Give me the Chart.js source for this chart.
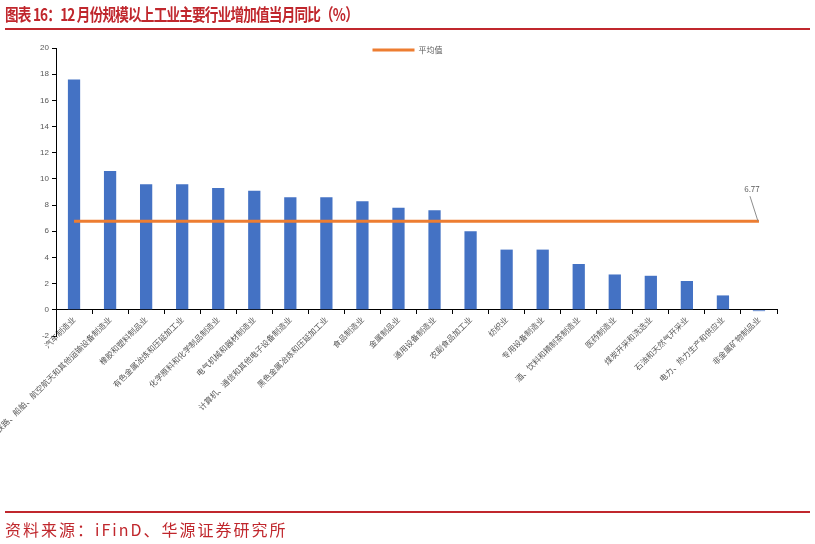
<!DOCTYPE html>
<html lang="zh">
  <head>
    <meta charset="UTF-8" />
    <title>12月份规模以上工业主要行业增加值当月同比</title>
    <script src="https://cdn.jsdelivr.net/npm/chart.js"></script>
    <style>
      html, body { margin: 0; padding: 0; background: #fff; }
      .page { position: relative; width: 815px; height: 544px; overflow: hidden; font-family: "Noto Sans CJK SC", sans-serif; }
      .title { position: absolute; left: 5px; top: 1px; font-size: 17px; font-weight: bold; color: #C0272D; letter-spacing: -1px; white-space: nowrap; transform: scaleX(0.8); transform-origin: left top; }
      .rule { position: absolute; left: 5px; width: 805px; height: 2px; background: #C0272D; }
      .source { position: absolute; left: 5px; top: 517px; font-size: 16px; color: #C0272D; letter-spacing: 2px; white-space: nowrap; }
      canvas { position: absolute; left: 0; top: 0; }
    </style>
  </head>
  <body>
    <div class="page">
      <canvas id="myChart" width="815" height="544"></canvas>
      <div class="title">图表 16：12 月份规模以上工业主要行业增加值当月同比（%）</div>
      <div class="rule" style="top: 28px"></div>
      <div class="rule" style="top: 511px"></div>
      <div class="source">资料来源：iFinD、华源证券研究所</div>
    </div>

    <script>
      const categories = [
        "汽车制造业",
        "铁路、船舶、航空航天和其他运输设备制造业",
        "橡胶和塑料制品业",
        "有色金属冶炼和压延加工业",
        "化学原料和化学制品制造业",
        "电气机械和器材制造业",
        "计算机、通信和其他电子设备制造业",
        "黑色金属冶炼和压延加工业",
        "食品制造业",
        "金属制品业",
        "通用设备制造业",
        "农副食品加工业",
        "纺织业",
        "专用设备制造业",
        "酒、饮料和精制茶制造业",
        "医药制造业",
        "煤炭开采和洗选业",
        "石油和天然气开采业",
        "电力、热力生产和供应业",
        "非金属矿物制品业"
      ];

      // 当月同比 (%)
      const growth = [17.6, 10.6, 9.6, 9.6, 9.3, 9.1, 8.6, 8.6, 8.3, 7.8,
                      7.6, 6.0, 4.6, 4.6, 3.5, 2.7, 2.6, 2.2, 1.1, -0.1];

      // 平均值
      const average = [6.77, 6.77, 6.77, 6.77, 6.77, 6.77, 6.77, 6.77, 6.77, 6.77,
                       6.77, 6.77, 6.77, 6.77, 6.77, 6.77, 6.77, 6.77, 6.77, 6.77];
      const averageLabel = "6.77";

      const yMin = -2;
      const yMax = 20;
      const yStep = 2;

      const BLUE = "#4472C4";
      const ORANGE = "#ED7D31";
      const GREY = "#595959";

      // legend drawn inside the plot area, centred above the bars
      const innerLegend = {
        id: "innerLegend",
        afterDraw(chart) {
          const { ctx, chartArea } = chart;
          const ds = chart.data.datasets[0];
          const cx = (chartArea.left + chartArea.right) / 2;
          const y = chartArea.top + 2;
          ctx.save();
          ctx.strokeStyle = ds.borderColor;
          ctx.lineWidth = 3;
          ctx.beginPath();
          ctx.moveTo(cx - 44, y);
          ctx.lineTo(cx - 2, y);
          ctx.stroke();
          ctx.fillStyle = GREY;
          ctx.font = '8px "Noto Sans CJK SC"';
          ctx.textBaseline = "middle";
          ctx.fillText(ds.label, cx + 2, y);
          ctx.restore();
        }
      };

      // value callout at the end of the average line
      const avgCallout = {
        id: "avgCallout",
        afterDatasetsDraw(chart) {
          const meta = chart.getDatasetMeta(0);
          const pt = meta.data[meta.data.length - 1];
          const ctx = chart.ctx;
          ctx.save();
          ctx.strokeStyle = "#8c8c8c";
          ctx.lineWidth = 1;
          ctx.beginPath();
          ctx.moveTo(pt.x - 1, pt.y);
          ctx.lineTo(pt.x - 9, pt.y - 25);
          ctx.stroke();
          ctx.fillStyle = GREY;
          ctx.font = '8px "Noto Sans CJK SC"';
          ctx.textAlign = "center";
          ctx.textBaseline = "bottom";
          ctx.fillText(averageLabel, pt.x - 7, pt.y - 28);
          ctx.restore();
        }
      };

      const ctx = document.getElementById("myChart").getContext("2d");
      new Chart(ctx, {
        data: {
          labels: categories,
          datasets: [
            {
              type: "line",
              label: "平均值",
              data: average,
              borderColor: ORANGE,
              backgroundColor: ORANGE,
              borderWidth: 3,
              pointRadius: 0,
              order: 0
            },
            {
              type: "bar",
              label: "当月同比",
              data: growth,
              backgroundColor: BLUE,
              barPercentage: 0.34,
              categoryPercentage: 1.0,
              order: 1
            }
          ]
        },
        options: {
          responsive: false,
          animation: false,
          devicePixelRatio: 1,
          layout: { padding: { top: 48, bottom: 208, left: 0, right: 38 } },
          plugins: {
            legend: { display: false },
            tooltip: { enabled: false }
          },
          scales: {
            x: {
              position: { y: 0 },
              grid: { offset: true, drawOnChartArea: false, tickLength: 4, color: "#000" },
              border: { color: "#000", width: 1 },
              ticks: {
                autoSkip: false,
                maxRotation: 45,
                minRotation: 45,
                padding: 1,
                color: GREY,
                font: { family: "Noto Sans CJK SC", size: 8 }
              }
            },
            y: {
              min: yMin,
              max: yMax,
              grid: { drawOnChartArea: false, tickLength: 4, color: "#000" },
              border: { color: "#000", width: 1 },
              ticks: {
                stepSize: yStep,
                padding: 3,
                color: GREY,
                font: { family: "Liberation Sans", size: 8 }
              },
              afterFit(scale) { scale.width = 56; }
            }
          }
        },
        plugins: [innerLegend, avgCallout]
      });
    </script>
  </body>
</html>
